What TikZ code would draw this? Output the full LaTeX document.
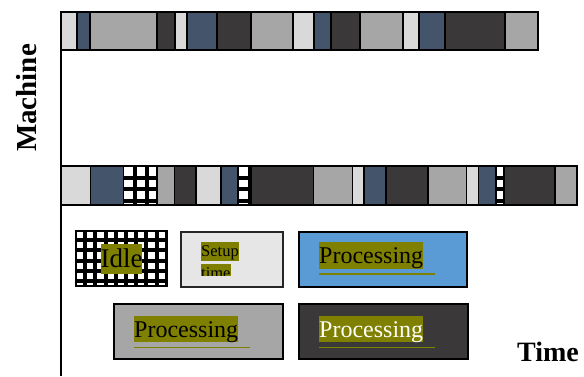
\documentclass[tikz,border=0pt]{standalone}
\usepackage{fontspec}
\setmainfont{Liberation Serif}
\usetikzlibrary{positioning,calc}
\definecolor{segL}{HTML}{D9D9D9}
\definecolor{segB}{HTML}{44546A}
\definecolor{segG}{HTML}{A6A6A6}
\definecolor{segD}{HTML}{3A3838}
\definecolor{setF}{HTML}{E7E6E6}
\definecolor{prcF}{HTML}{5B9BD5}
\definecolor{hlF}{HTML}{808000}

% white cells with a thick black grid: x1,y1,x2,y2,cell
\newcommand{\hatchbox}[5]{%
  \begin{scope}
    \clip (#1,#2) rectangle (#3,#4);
    \fill[white] (#1,#2) rectangle (#3,#4);
    \foreach \k in {1,...,10}{
      \draw[gridln] ($(#1,#2)+(\k*#5,0)$) -- ++(0,70);
      \draw[gridln] ($(#1,#2)+(0,\k*#5)$) -- ++(110,0);
    }
  \end{scope}}

\begin{document}
\begin{tikzpicture}[x=1pt,y=-1pt,
  seg/.style={draw=black,line width=1.5pt},
  gridln/.style={black,line width=4pt},
  leg/.style={draw=black,line width=1.5pt,inner sep=0pt,minimum height=55pt,anchor=north west},
  hl/.style={fill=hlF,inner sep=0pt},
  hlP/.style={hl,font=\fontsize{24}{24}\selectfont,text height=21.4pt,text depth=5.3pt},
  hlI/.style={hl,font=\fontsize{27}{27}\selectfont,text height=24pt,text depth=6pt},
  hlS/.style={hl,font=\fontsize{16.5}{16.5}\selectfont,text height=14.7pt,text depth=3.6pt},
  uline/.style={hlF,line width=1.2pt},
  lbl/.style={font=\bfseries\fontsize{28}{28}\selectfont},
  ]
\useasboundingbox (0,0) rectangle (584,376);

% ================= axis + labels =================
\coordinate (ax0) at (61,12);
\coordinate (ax1) at (61,376);
\draw[line width=1.3pt] (ax0) -- (ax1);
\node[lbl,font=\bfseries\fontsize{29}{29}\selectfont,rotate=90] (mach) at (27,98) {Machine};
\node[lbl] (time) at (548,352) {Time};

% ================= first machine =================
\foreach \xa/\xb/\c in {61/77/segL,77/90/segB,90/157/segG,157/175/segD,175/187/segL,
    187/217/segB,217/251/segD,251/293/segG,293/314/segL,314/331/segB,331/360/segD,
    360/403/segG,403/419/segL,419/445/segB,445/505/segD,505/538/segG}
  \draw[seg,fill=\c] (\xa,12) rectangle (\xb,50);

% ================= last machine =================
\foreach \xa/\xb/\c in {61/90.5/segL,90.5/123.5/segB,157.5/174.5/segG,174.5/196/segD,
    196/221/segL,221/238/segB,251/313.5/segD,313.5/352.5/segG,352.5/364/segL,
    364/386/segB,386/428/segD,428/466.5/segG,466.5/478.5/segL,478.5/496/segB,
    504/555/segD,555/577/segG}
  \draw[seg,fill=\c] (\xa,166) rectangle (\xb,205);
\foreach \xa/\xb in {123.5/157.5,238/251,496/504}{
  \hatchbox{\xa}{166}{\xb}{205}{11.5}
  \draw[seg] (\xa,166) rectangle (\xb,205);
}

% ================= legend =================
\hatchbox{75}{230}{166}{286}{10.2}
\node[leg,line width=2pt,minimum width=91pt] (idle) at (75,230) {};
\node[hlI] (tIdle) at (idle.center) {Idle};

\node[leg,fill=setF,draw=black!85,minimum width=102pt] (setup) at (180,231) {};
\node[hlS,anchor=north west] (tSetA) at (201,242) {Setup};
\begin{scope}
  \clip (195,262) rectangle (250,275);
  \node[hlS,anchor=north west] (tSetB) at (201,264) {time};
\end{scope}

\node[leg,fill=prcF,minimum width=168pt] (procB) at (298,231) {};
\node[hlP,anchor=west] (tB) at (319,255.5) {Processing};
\draw[uline] ($(tB.south west)+(0,5)$) -- ++(116,0);

\node[leg,fill=segG,minimum width=169pt] (procG) at (113,303) {};
\node[hlP,anchor=west] (tG) at (134,329) {Processing};
\draw[uline] ($(tG.south west)+(0,5)$) -- ++(116,0);

\node[leg,fill=segD,minimum width=169pt] (procD) at (298,303) {};
\node[hlP,anchor=west,text=white] (tD) at (319,329) {Processing};
\draw[uline] ($(tD.south west)+(0,5)$) -- ++(116,0);

\end{tikzpicture}
\end{document}
